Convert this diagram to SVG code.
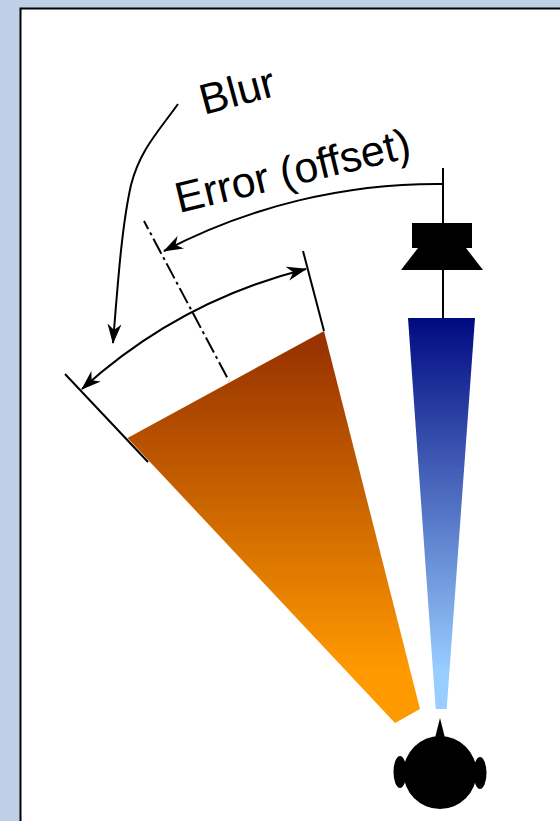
<svg xmlns="http://www.w3.org/2000/svg" width="560" height="821" viewBox="0 0 560 821">
<style>
.ln{fill:none;stroke:#000;stroke-width:2}
.lbl{font-family:"Liberation Sans",Arial,sans-serif;font-size:43px;fill:#000}
</style>
<defs>
<linearGradient id="gb" gradientUnits="userSpaceOnUse" x1="0" y1="318" x2="0" y2="670"><stop offset="0" stop-color="#000a80"/><stop offset="1" stop-color="#99ccff"/></linearGradient>
<linearGradient id="go" gradientUnits="userSpaceOnUse" x1="0" y1="345" x2="0" y2="670"><stop offset="0" stop-color="#993300"/><stop offset="1" stop-color="#ff9900"/></linearGradient>
<marker id="ah" markerUnits="userSpaceOnUse" markerWidth="22" markerHeight="15" refX="19" refY="7" orient="auto-start-reverse" viewBox="0 0 22 14"><path d="M0 0L20 7L0 14L6 7Z" fill="#000"/></marker>
</defs>
<rect width="560" height="821" fill="#bfd0e6"/>
<rect id="frame" x="20.500" y="8.500" width="560" height="830" fill="#fff" stroke="#000" stroke-width="2"/>
<g id="connectors">
<path class="ln" d="M443 168V318"/>
<path class="ln" d="M303 251L324 331"/>
<path class="ln" d="M65 374L148 462"/>
<path class="ln" stroke-dasharray="17 4 3 4" stroke-dashoffset="8" d="M144 221L229 381"/>
<path class="ln" marker-start="url(#ah)" marker-end="url(#ah)" d="M82 389A523 523 0 0 1 306 269"/>
<path class="ln" marker-end="url(#ah)" d="M442 184A590 590 0 0 0 164 251"/>
<path class="ln" marker-end="url(#ah)" d="M178 104C158 132 140 150 131 185C122 225 118 280 113 343"/>
</g>
<g id="blue-wedge"><polygon points="408,318 475,318 446.700,709 435.700,709" fill="url(#gb)"/></g>
<g id="orange-wedge"><polygon points="324,331 127.500,438 395,723 420,709" fill="url(#go)"/></g>
<g id="speaker"><rect x="412" y="223" width="60" height="25"/><polygon points="418,248 466,248 483,270 401,270"/></g>
<g id="head"><circle cx="440" cy="772.500" r="36.500"/><ellipse cx="400" cy="772" rx="6.500" ry="16"/><ellipse cx="480" cy="773" rx="6.500" ry="16"/><polygon points="440,718 435,738 445,738"/></g>
<g id="label-blur"><text class="lbl" transform="translate(204 115) rotate(-15)">Blur</text></g>
<g id="label-error"><text class="lbl" transform="translate(179 213) rotate(-13.500)">Error (offset)</text></g>
</svg>
